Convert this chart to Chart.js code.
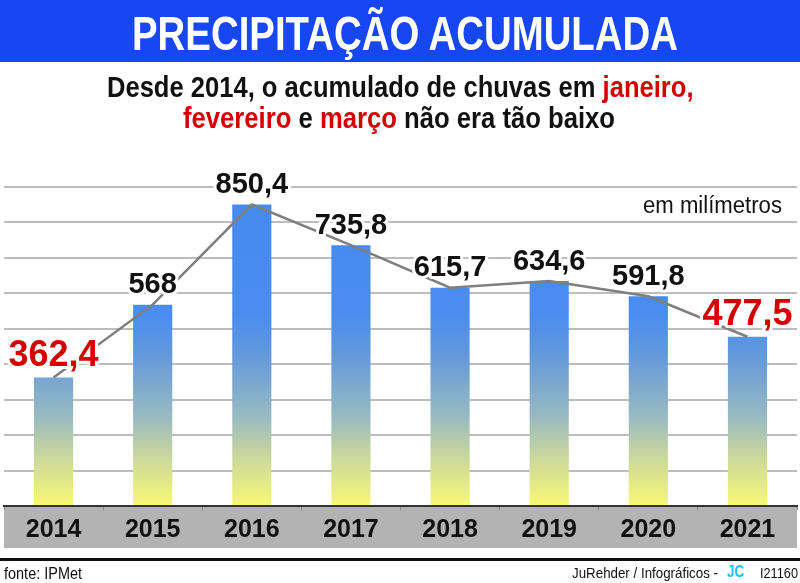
<!DOCTYPE html>
<html lang="pt-BR">
<head>
<meta charset="utf-8">
<title>Precipitação acumulada</title>
<script src="https://cdn.jsdelivr.net/npm/chart.js@4.4.1/dist/chart.umd.min.js"></script>
<style>
    html, body { margin: 0; padding: 0; background: #fff; }
    #wrap { position: relative; width: 800px; height: 583px; overflow: hidden; background: #fff; }
    #grafico { position: absolute; left: 0; top: 0; }
    #faixa { position: absolute; left: 0; top: 0; width: 800px; height: 62px; background: #1747f2; }
    #rodape-linha { position: absolute; left: 0; top: 558px; width: 800px; height: 3px; background: #111; }
    .txt { position: absolute; white-space: nowrap; line-height: 1; transform-origin: 0 0;
           font-family: "Liberation Sans", Arial, sans-serif; }
    .red { color: #d40000; }
    #titulo { left: 132px; top: 8.5px; font-size: 49px; font-weight: bold; color: #fff; }
    #sub1 { left: 106.5px; top: 72.5px; font-size: 29px; font-weight: bold; color: #111; }
    #sub2 { left: 183px; top: 103.5px; font-size: 29px; font-weight: bold; color: #111; }
    #unidade { left: 643px; top: 193.5px; font-size: 23px; color: #111; }
    #fonte { left: 4px; top: 565.5px; font-size: 16px; color: #111; }
    #credito { left: 572px; top: 564.5px; font-size: 15px; color: #111; }
    #jc { left: 727px; top: 564px; font-size: 16px; font-weight: bold; color: #19c3ee; }
    #codigo { left: 760px; top: 564.5px; font-size: 15px; color: #111; }
</style>
</head>
<body>
<div id="wrap">
    <div id="faixa"></div>
    <canvas id="grafico" width="800" height="583"></canvas>
    <div id="titulo" class="txt fit" data-w="546">PRECIPITAÇÃO ACUMULADA</div>
    <div id="sub1" class="txt fit" data-w="586.5">Desde 2014, o acumulado de chuvas em <span class="red">janeiro,</span></div>
    <div id="sub2" class="txt fit" data-w="432"><span class="red">fevereiro</span> e <span class="red">março</span> não era tão baixo</div>
    <div id="unidade" class="txt fit" data-w="139">em milímetros</div>
    <div id="rodape-linha"></div>
    <div id="fonte" class="txt fit" data-w="78">fonte: IPMet</div>
    <div id="credito" class="txt fit" data-w="146">JuRehder / Infográficos -</div>
    <div id="jc" class="txt fit" data-w="17">JC</div>
    <div id="codigo" class="txt fit" data-w="38">I21160</div>
</div>

<script>
// Dados: acumulado de chuvas jan-mar (mm)
const anos = ['2014', '2015', '2016', '2017', '2018', '2019', '2020', '2021'];
const acumulado = [362.4, 568, 850.4, 735.8, 615.7, 634.6, 591.8, 477.5];
const destaques = [0, 7];          // anos com rótulo em vermelho
const escalaMin = 0;
const escalaMax = 900;
const escalaPasso = 100;

function formatar(v) {
    return String(v).replace('.', ',');
}

// Ajusta a largura dos textos (simula fonte condensada)
function ajustarTextos() {
    document.querySelectorAll('.fit').forEach(el => {
        el.style.transform = 'none';
        const alvo = parseFloat(el.dataset.w);
        const largura = el.getBoundingClientRect().width;
        if (largura > 0) {
            el.style.transform = 'scaleX(' + (alvo / largura) + ')';
        }
    });
}

let gradienteCache = null;
function gradienteBarras(context) {
    const area = context.chart.chartArea;
    if (!area) return '#4a8cf0';
    if (gradienteCache) return gradienteCache;
    const g = context.chart.ctx.createLinearGradient(0, area.bottom, 0, area.top);
    g.addColorStop(0.0, '#f8f876');
    g.addColorStop(0.15, '#cbd99a');
    g.addColorStop(0.28, '#98bac2');
    g.addColorStop(0.48, '#6198dc');
    g.addColorStop(0.6, '#4a8cf0');
    g.addColorStop(1.0, '#468aef');
    gradienteCache = g;
    return g;
}

// Faixa cinza atrás dos anos
const faixaAnos = {
    id: 'faixaAnos',
    beforeDraw(chart) {
        const { ctx, chartArea } = chart;
        ctx.save();
        ctx.fillStyle = '#b3b3b3';
        ctx.fillRect(chartArea.left, chartArea.bottom, chartArea.right - chartArea.left, 42);
        ctx.restore();
    }
};

// Rótulos de valor sobre as barras
const rotulosValor = {
    id: 'rotulosValor',
    afterDatasetsDraw(chart) {
        const ctx = chart.ctx;
        const meta = chart.getDatasetMeta(1);   // dataset das barras
        ctx.save();
        ctx.textAlign = 'center';
        ctx.textBaseline = 'alphabetic';
        ctx.lineJoin = 'round';
        meta.data.forEach((barra, i) => {
            const vermelho = destaques.includes(i);
            ctx.font = vermelho ? 'bold 36px "Liberation Sans"' : 'bold 29px "Liberation Sans"';
            const texto = formatar(acumulado[i]);
            const y = barra.y - 11.5;
            ctx.lineWidth = 6;
            ctx.strokeStyle = '#fff';
            ctx.strokeText(texto, barra.x, y);
            ctx.fillStyle = vermelho ? '#d40000' : '#111';
            ctx.fillText(texto, barra.x, y);
        });
        ctx.restore();
    }
};

function desenharGrafico() {
    const ctx = document.getElementById('grafico');
    new Chart(ctx, {
        type: 'bar',
        data: {
            labels: anos,
            datasets: [
                {
                    type: 'line',
                    data: acumulado,
                    borderColor: '#7f7f7f',
                    borderWidth: 2.5,
                    pointRadius: 0,
                    tension: 0,
                    order: 0
                },
                {
                    type: 'bar',
                    data: acumulado,
                    backgroundColor: gradienteBarras,
                    barPercentage: 0.395,
                    categoryPercentage: 1,
                    order: 1
                }
            ]
        },
        options: {
            responsive: false,
            animation: false,
            devicePixelRatio: 1,
            layout: { padding: { top: 187, left: 4, right: 3, bottom: 33 } },
            plugins: {
                legend: { display: false },
                tooltip: { enabled: false },
                title: { display: false }
            },
            scales: {
                x: {
                    grid: { drawOnChartArea: false, drawTicks: true, tickLength: 4, color: '#8a8a8a', lineWidth: 1 },
                    border: { color: '#333', width: 2 },
                    ticks: {
                        color: '#111',
                        padding: 5,
                        font: { family: '"Liberation Sans", Arial, sans-serif', weight: 'bold', size: 25 }
                    }
                },
                y: {
                    min: escalaMin,
                    max: escalaMax,
                    ticks: { display: false, stepSize: escalaPasso },
                    grid: { color: '#bdbdbd', lineWidth: 2, drawTicks: false },
                    border: { display: false }
                }
            }
        },
        plugins: [faixaAnos, rotulosValor]
    });
}

desenharGrafico();
ajustarTextos();
if (document.fonts && document.fonts.ready) {
    document.fonts.ready.then(ajustarTextos);
}
</script>
</body>
</html>
